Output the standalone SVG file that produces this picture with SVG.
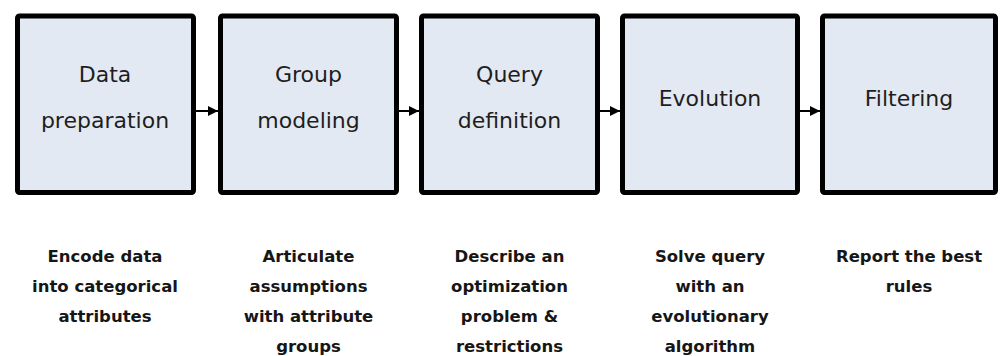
<svg xmlns="http://www.w3.org/2000/svg" width="1000" height="356" viewBox="0 0 1000 356">
  <defs>
    <style>
      .box { fill: #e3e9f2; stroke: #000; stroke-width: 5; }
      .title { font-family: "DejaVu Sans", "Liberation Sans", sans-serif; font-size: 22px; fill: #1e1e1e; text-anchor: middle; }
      .desc { font-family: "DejaVu Sans", "Liberation Sans", sans-serif; font-size: 16.5px; font-weight: bold; fill: #161616; text-anchor: middle; }
      .link { stroke: #000; stroke-width: 2; fill: none; }
    </style>
    <marker id="arrow" viewBox="0 0 10 10" refX="10" refY="5" markerWidth="5" markerHeight="5" markerUnits="strokeWidth" orient="auto">
      <path d="M0,0 L10,5 L0,10 Z" fill="#000"/>
    </marker>
  </defs>
  <rect width="1000" height="356" fill="#fff"/>

  <!-- process steps -->
  <g id="step-data-preparation">
    <rect class="box" x="17.5" y="16" width="176" height="176.5" rx="2"/>
    <text class="title" x="105" y="82">Data</text>
    <text class="title" x="105" y="128">preparation</text>
    <text class="desc" x="105" y="262">Encode data</text>
    <text class="desc" x="105" y="292">into categorical</text>
    <text class="desc" x="105" y="322">attributes</text>
  </g>

  <g id="step-group-modeling">
    <rect class="box" x="220.5" y="16" width="176" height="176.5" rx="2"/>
    <text class="title" x="308.5" y="82">Group</text>
    <text class="title" x="308.5" y="128">modeling</text>
    <text class="desc" x="308.5" y="262">Articulate</text>
    <text class="desc" x="308.5" y="292">assumptions</text>
    <text class="desc" x="308.5" y="322">with attribute</text>
    <text class="desc" x="308.5" y="352">groups</text>
  </g>

  <g id="step-query-definition">
    <rect class="box" x="421.5" y="16" width="176" height="176.5" rx="2"/>
    <text class="title" x="509.5" y="82">Query</text>
    <text class="title" x="509.5" y="128">definition</text>
    <text class="desc" x="509.5" y="262">Describe an</text>
    <text class="desc" x="509.5" y="292">optimization</text>
    <text class="desc" x="509.5" y="322">problem &amp;</text>
    <text class="desc" x="509.5" y="352">restrictions</text>
  </g>

  <g id="step-evolution">
    <rect class="box" x="622.5" y="16" width="175" height="176.5" rx="2"/>
    <text class="title" x="710" y="106">Evolution</text>
    <text class="desc" x="710" y="262">Solve query</text>
    <text class="desc" x="710" y="292">with an</text>
    <text class="desc" x="710" y="322">evolutionary</text>
    <text class="desc" x="710" y="352">algorithm</text>
  </g>

  <g id="step-filtering">
    <rect class="box" x="822.5" y="16" width="173" height="176.5" rx="2"/>
    <text class="title" x="909" y="106">Filtering</text>
    <text class="desc" x="909" y="262">Report the best</text>
    <text class="desc" x="909" y="292">rules</text>
  </g>

  <!-- connectors -->
  <g id="connectors">
    <line class="link" x1="196" y1="111" x2="218" y2="111" marker-end="url(#arrow)"/>
    <line class="link" x1="399" y1="111" x2="419" y2="111" marker-end="url(#arrow)"/>
    <line class="link" x1="600" y1="111" x2="620" y2="111" marker-end="url(#arrow)"/>
    <line class="link" x1="800" y1="111" x2="820" y2="111" marker-end="url(#arrow)"/>
  </g>
</svg>
